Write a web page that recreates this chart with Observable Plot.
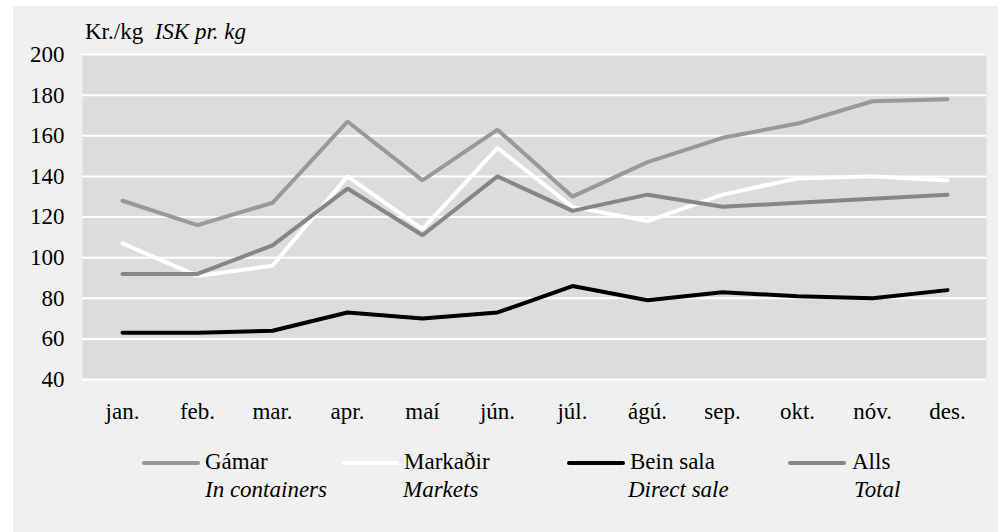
<!DOCTYPE html>
<html>
<head>
<meta charset="utf-8">
<script src="https://cdn.jsdelivr.net/npm/d3@7"></script>
<script src="https://cdn.jsdelivr.net/npm/@observablehq/plot@0.6"></script>
<style>
  html, body { margin: 0; padding: 0; background: #ffffff; }
  body { width: 1002px; height: 532px; position: relative; overflow: hidden; font-family: 'Liberation Serif', 'Times New Roman', serif; }
  #panel { position: absolute; left: 13px; top: 6px; width: 985px; height: 526px; background: #f0f0f0; }
  #chart { position: absolute; left: 0; top: 0; }
  .t { position: absolute; font-size: 23px; color: #000; white-space: nowrap; line-height: 1; font-family: 'Liberation Serif', 'Times New Roman', serif; }
  .i { font-style: italic; }
  .sw { position: absolute; height: 4px; border-radius: 2px; }
  #chart svg text { font-family: 'Liberation Serif', 'Times New Roman', serif; }
</style>
</head>
<body>
<div id="panel"></div>
<div id="chart"></div>
<div id="legend"></div>
<script>
const months = ["jan.","feb.","mar.","apr.","maí","jún.","júl.","ágú.","sep.","okt.","nóv.","des."];
const seriesNames = ["Gámar","Markaðir","Bein sala","Alls"];
const seriesEnglish = ["In containers","Markets","Direct sale","Total"];
const seriesColors = ["#999999","#ffffff","#000000","#868686"];
const gamar    = [128,116,127,167,138,163,130,147,159,166,177,178];
const markadir = [107, 91, 96,140,114,154,125,118,131,139,140,138];
const beinSala = [ 63, 63, 64, 73, 70, 73, 86, 79, 83, 81, 80, 84];
const alls     = [ 92, 92,106,134,111,140,123,131,125,127,129,131];
const yTicks = [40,60,80,100,120,140,160,180,200];

const seriesValues = [gamar, markadir, beinSala, alls];
const data = [];
seriesNames.forEach((s, si) => {
  months.forEach((m, mi) => data.push({series: s, month: m, value: seriesValues[si][mi]}));
});

const serif = "'Liberation Serif', 'Times New Roman', serif";

const chart = Plot.plot({
  width: 1002,
  height: 440,
  marginLeft: 82,
  marginRight: 16,
  marginTop: 54,
  marginBottom: 61,
  style: {background: "transparent", fontFamily: serif, fontSize: "23px", color: "#000", overflow: "visible"},
  x: {type: "point", domain: months, padding: 0.5, label: null},
  y: {domain: [40, 200], label: null},
  color: {domain: seriesNames, range: seriesColors},
  marks: [
    Plot.frame({fill: "#dcdcdc", stroke: "none"}),
    Plot.ruleY(yTicks, {stroke: "#ffffff", strokeWidth: 2}),
    Plot.axisY({ticks: yTicks, tickSize: 0, tickPadding: 18, label: null, fontSize: 23}),
    Plot.axisX({tickSize: 0, tickPadding: 23, label: null, fontSize: 23}),
    Plot.line(data, {x: "month", y: "value", z: "series", stroke: "series", strokeWidth: 4, strokeLinecap: "round", strokeLinejoin: "miter"})
  ]
});
document.getElementById("chart").appendChild(chart);

// title
const title = document.createElement("div");
title.className = "t";
title.style.left = "85px";
title.style.top = "20px";
title.innerHTML = 'Kr./kg&nbsp; <span class="i">ISK pr. kg</span>';
document.body.appendChild(title);

// legend
const legend = document.getElementById("legend");
const swX = [142, 341, 567, 788];
const txX = [205, 404, 630, 852];
const itX = [205, 403, 628, 854];
seriesNames.forEach((s, i) => {
  const sw = document.createElement("div");
  sw.className = "sw";
  sw.style.left = swX[i] + "px";
  sw.style.top = "461px";
  sw.style.width = "58px";
  sw.style.background = seriesColors[i];
  legend.appendChild(sw);
  const t = document.createElement("div");
  t.className = "t";
  t.style.left = txX[i] + "px";
  t.style.top = "450px";
  t.textContent = s;
  legend.appendChild(t);
  const e = document.createElement("div");
  e.className = "t i";
  e.style.left = itX[i] + "px";
  e.style.top = "478px";
  e.textContent = seriesEnglish[i];
  legend.appendChild(e);
});
</script>
</body>
</html>
